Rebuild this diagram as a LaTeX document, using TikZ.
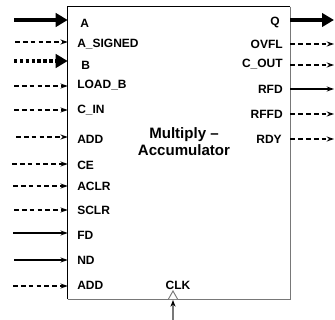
\documentclass[tikz,border=0pt]{standalone}
\usepackage{fontspec}
\setmainfont{Liberation Sans}
\usepackage{tikz}
\usetikzlibrary{arrows.meta,calc,positioning}
\definecolor{edgegray}{RGB}{120,120,120}

\begin{document}
\begin{tikzpicture}[x=.75pt,y=-.75pt,
      lbl/.style={font=\fontsize{9}{10}\selectfont\bfseries,inner sep=0pt},
      wire/.style={-{Stealth[length=5.5pt,width=3.8pt]},line width=.9pt},
      dashwire/.style={wire,dash pattern=on 3.5pt off 2.4pt},
      bus/.style={-{Triangle[length=9pt,width=10pt]},line width=2.5pt},
      dotbus/.style={bus,dash pattern=on 2.6pt off 1.8pt}]
      \useasboundingbox (0,0) rectangle (335,320);
      \node[minimum width=166.5pt,minimum height=219pt,inner sep=0pt] (acc) at (179,153) {};
      \draw[line width=.9pt] (acc.south west)--(acc.north west)--(acc.north east);
      \draw[line width=1.1pt,edgegray] (acc.north east)--(acc.south east)--(acc.south west);
      \node[font=\fontsize{11.3}{12.8}\selectfont\bfseries,align=center,inner sep=0pt] (title) at (184,142) {Multiply --\\Accumulator};
      % inputs
      \coordinate (ina) at (14,20);
      \coordinate (insigned) at (15,42);
      \coordinate (inb) at (14,61);
      \coordinate (inload) at (14,86);
      \coordinate (incin) at (14,110);
      \coordinate (inadd) at (16,137);
      \coordinate (ince) at (12,164);
      \coordinate (inaclr) at (13,186);
      \coordinate (insclr) at (14,210);
      \coordinate (infd) at (13,233);
      \coordinate (innd) at (14,260);
      \coordinate (inaddb) at (13,286);
      \draw[bus] (ina)--(ina -| acc.west);
      \draw[dashwire] (insigned)--(insigned -| acc.west);
      \draw[dotbus] (inb)--(inb -| acc.west);
      \draw[dashwire] (inload)--(inload -| acc.west);
      \draw[dashwire] (incin)--(incin -| acc.west);
      \draw[dashwire] (inadd)--(inadd -| acc.west);
      \draw[dashwire] (ince)--(ince -| acc.west);
      \draw[dashwire] (inaclr)--(inaclr -| acc.west);
      \draw[dashwire] (insclr)--(insclr -| acc.west);
      \draw[wire] (infd)--(infd -| acc.west);
      \draw[wire] (innd)--(innd -| acc.west);
      \draw[dashwire] (inaddb)--(inaddb -| acc.west);
      \node[lbl,anchor=west] (a) at (80,23) {A};
      \node[lbl,anchor=west] (signed) at (77,44) {A\_SIGNED};
      \node[lbl,anchor=west] (b) at (81,65) {B};
      \node[lbl,anchor=west] (load) at (77,85) {LOAD\_B};
      \node[lbl,anchor=west] (cin) at (77,110) {C\_IN};
      \node[lbl,anchor=west] (add) at (77,139) {ADD};
      \node[lbl,anchor=west] (ce) at (77,165) {CE};
      \node[lbl,anchor=west] (aclr) at (77,186) {ACLR};
      \node[lbl,anchor=west] (sclr) at (77,210) {SCLR};
      \node[lbl,anchor=west] (fd) at (77,235) {FD};
      \node[lbl,anchor=west] (nd) at (77,260) {ND};
      \node[lbl,anchor=west] (addb) at (77,285) {ADD};
      % outputs
      \coordinate (outq) at (334,20);
      \coordinate (outovfl) at (334,44);
      \coordinate (outcout) at (334,65);
      \coordinate (outrfd) at (334,89);
      \coordinate (outrffd) at (334,114);
      \coordinate (outrdy) at (334,139);
      \draw[bus] (outq -| acc.east)--(outq);
      \draw[dashwire] (outovfl -| acc.east)--(outovfl);
      \draw[dashwire] (outcout -| acc.east)--(outcout);
      \draw[wire] (outrfd -| acc.east)--(outrfd);
      \draw[dashwire] (outrffd -| acc.east)--(outrffd);
      \draw[dashwire] (outrdy -| acc.east)--(outrdy);
      \node[lbl,anchor=east] (q) at (280,22) {Q};
      \node[lbl,anchor=east] (ovfl) at (283,44) {OVFL};
      \node[lbl,anchor=east] (cout) at (283,64) {C\_OUT};
      \node[lbl,anchor=east] (rfd) at (283,89) {RFD};
      \node[lbl,anchor=east] (rffd) at (283,114) {RFFD};
      \node[lbl,anchor=east] (rdy) at (282,139) {RDY};
      % clock
      \node[lbl] (clk) at (178,285) {CLK};
      \coordinate (clkin) at (173,320);
      \coordinate (clkend) at (173,300);
      \coordinate (clktip) at (173,291);
      \draw[edgegray,line width=.7pt,fill=white] (168.5,299)--(clktip)--(177.5,299);
      \draw[edgegray,line width=.8pt,-{Stealth[length=5pt,width=3.8pt,black]}] (clkin)--(clkend);
    \end{tikzpicture}
\end{document}
